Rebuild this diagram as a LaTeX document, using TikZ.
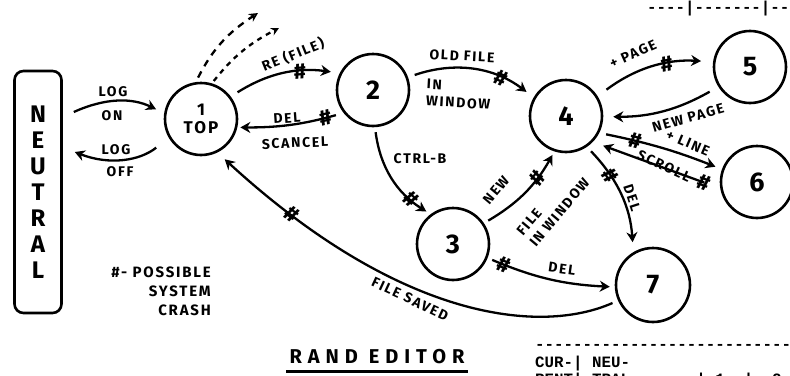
\documentclass[tikz,border=0pt]{standalone}
\usepackage{fontspec}
\setmonofont{Liberation Mono}
\newfontfamily\handfont[LetterSpace=12]{Fira Sans}
\newfontfamily\markfont{Fira Sans}
\usetikzlibrary{arrows.meta,calc,positioning}

\tikzset{
  state/.style={circle, draw, line width=2.6pt, minimum size=72pt, inner sep=0pt,
    font=\handfont\bfseries\fontsize{27}{27}\selectfont},
  trans/.style={line width=2.3pt, -{Stealth[length=10pt,width=11pt]}},
  lbl/.style={font=\handfont\bfseries\fontsize{14}{17}\selectfont, inner sep=0pt, align=left},
  crash/.style={sloped, inner sep=0pt, font=\markfont\bfseries\fontsize{22}{22}\selectfont},
  esc/.style={line width=2.3pt, dash pattern=on 7pt off 6pt},
  typed/.style={font=\ttfamily\bfseries\fontsize{15.8}{15.8}\selectfont, inner sep=0pt, anchor=base west}
}

\begin{document}
\begin{tikzpicture}[x=1pt, y=-1pt]
\useasboundingbox (0,0) rectangle (790,375);

% states
\node[draw, line width=2.6pt, rounded corners=9pt, minimum width=47pt, minimum height=242pt,
  align=center, font=\handfont\bfseries\fontsize{24}{26}\selectfont] (neutral) at (38,192) {N\\E\\U\\T\\R\\A\\L};
\node[state, font=\handfont\bfseries\fontsize{17}{18}\selectfont, align=center] (n1) at (201,119) {1\\TOP};
\node[state] (n2) at (373,90) {2};
\node[state] (n3) at (453,244) {3};
\node[state] (n4) at (566,116) {4};
\node[state] (n5) at (750,67) {5};
\node[state] (n6) at (757,182) {6};
\node[state, minimum size=74pt] (n7) at (653,285) {7};

% labels
\node[lbl] (logon) at (113,92) {LOG};
\node[lbl] (on) at (112,116) {ON};
\node[lbl] (logoff) at (116,150) {LOG};
\node[lbl] (off) at (120,172) {OFF};
\node[lbl, rotate=22] (refile) at (293,55) {RE (FILE)};
\node[lbl, rotate=4] (del1) at (287,118) {DEL};
\node[lbl, rotate=2] (scancel) at (295,143) {SCANCEL};
\node[lbl, rotate=-3] (oldfile) at (462,56) {OLD FILE};
\node[lbl, rotate=-3, anchor=north west] (inwin) at (427,79) {IN\\WINDOW};
\node[lbl] (ctrlb) at (420,159) {CTRL-B};
\node[lbl, rotate=50] (new) at (496,190) {NEW};
\node[lbl, rotate=50] (filewin) at (553,207) {FILE\\IN WINDOW};
\node[lbl, rotate=24] (ppage) at (633,54) {+ PAGE};
\node[lbl, rotate=16] (npage) at (688,118) {NEW PAGE};
\node[lbl, rotate=-23] (pline) at (688,143) {+ LINE};
\node[lbl, rotate=-25] (scroll) at (664,166) {SCROLL};
\node[lbl, rotate=-72] (del2) at (632,198) {DEL};
\node[lbl, rotate=-8] (del3) at (562,269) {DEL};
\node[lbl, rotate=-25] (saved) at (410,299) {FILE SAVED};

% transitions
\draw[trans, shorten >=9pt] ($(neutral.east |- n1.center)+(11,-7)$) to[bend left=25] (n1.171);
\draw[trans, shorten <=16pt] (n1.210) to[bend left=30] ($(neutral.east |- n1.center)+(12,33)$);
\draw[trans, shorten <=8pt, shorten >=9pt] (n1.37) to[bend left=20] node[crash, pos=.66] (c1) {\#} (n2.153);
\draw[trans, shorten <=8pt, shorten >=3pt] (n2.218) to[bend left=8] node[crash, pos=.16] (c2) {\#} (n1.347);
\draw[trans, shorten <=7pt, shorten >=9pt] (n2.20) to[bend left=28] node[crash, pos=.73] (c3) {\#} (n4.150);
\draw[trans, shorten <=5pt, shorten >=5pt] (n2.273) to[bend right=25] node[crash, pos=.78] (c4) {\#} (n3.127);
\draw[trans, shorten <=5pt, shorten >=4pt] (n3.34) to[bend right=15] node[crash, pos=.7] (c5) {\#} (n4.252);
\draw[trans, shorten <=11pt, shorten >=12pt] (n4.32) to[bend left=20] node[crash, pos=.63] (c6) {\#} (n5.172);
\draw[trans, shorten <=10pt, shorten >=10pt] (n5.212) to[bend left=15] (n4.359);
\draw[trans, shorten <=7pt, shorten >=7pt] (n4.333) to[bend left=5] node[crash, pos=.27] (c7) {\#} (n6.160);
\draw[trans, shorten <=17pt, shorten >=11pt] (n6.190) -- node[crash, pos=.13] (c8) {\#} (n4.316);
\draw[trans, shorten <=6pt, shorten >=10pt] (n4.304) to[bend left=20] node[crash, pos=.3] (c9) {\#} (n7.121);
\draw[trans, shorten <=5pt, shorten >=5pt] (n3.338) to[bend right=10] node[crash, pos=.12] (c10) {\#} (n7.183);
\draw[trans, shorten <=6pt, shorten >=10pt] (n7.204) .. controls (540,335) and (400,320) .. node[crash, pos=.86] (c11) {\#} (n1.296);

% escapes out of TOP
\coordinate (escA) at (258,13);
\coordinate (escB) at (279,28);
\draw[esc, -{Stealth[open,length=9pt,width=9pt]}, shorten <=5pt] (n1.98) to[bend left=15] (escA);
\draw[esc, dash pattern=on 5pt off 5pt, -{Stealth[length=8pt,width=8pt]}, shorten <=3pt] (n1.73) to[bend left=12] (escB);

% legend and title
\node[lbl, align=right, anchor=east, font=\handfont\bfseries\fontsize{15}{19}\selectfont] (legend) at (211,291) {\#- POSSIBLE\\SYSTEM\\CRASH};
\node[lbl, font=\handfont\bfseries\fontsize{20}{20}\selectfont\addfontfeatures{LetterSpace=30}, inner xsep=3pt, inner ysep=7pt] (title) at (377,357) {RAND EDITOR};
\draw[line width=3.5pt] (title.south west) -- (title.south east);

% typed status table
\node[typed] (header) at (647,12) {----|-------|--};
\node[typed] (rule) at (535,349) {----------------------------};
\node[typed] (cur) at (535,367) {CUR-|~NEU-};
\node[typed] (rent) at (535,384) {RENT|~TRAL~~~~~~~|~1~~|~~2};
\end{tikzpicture}
\end{document}
